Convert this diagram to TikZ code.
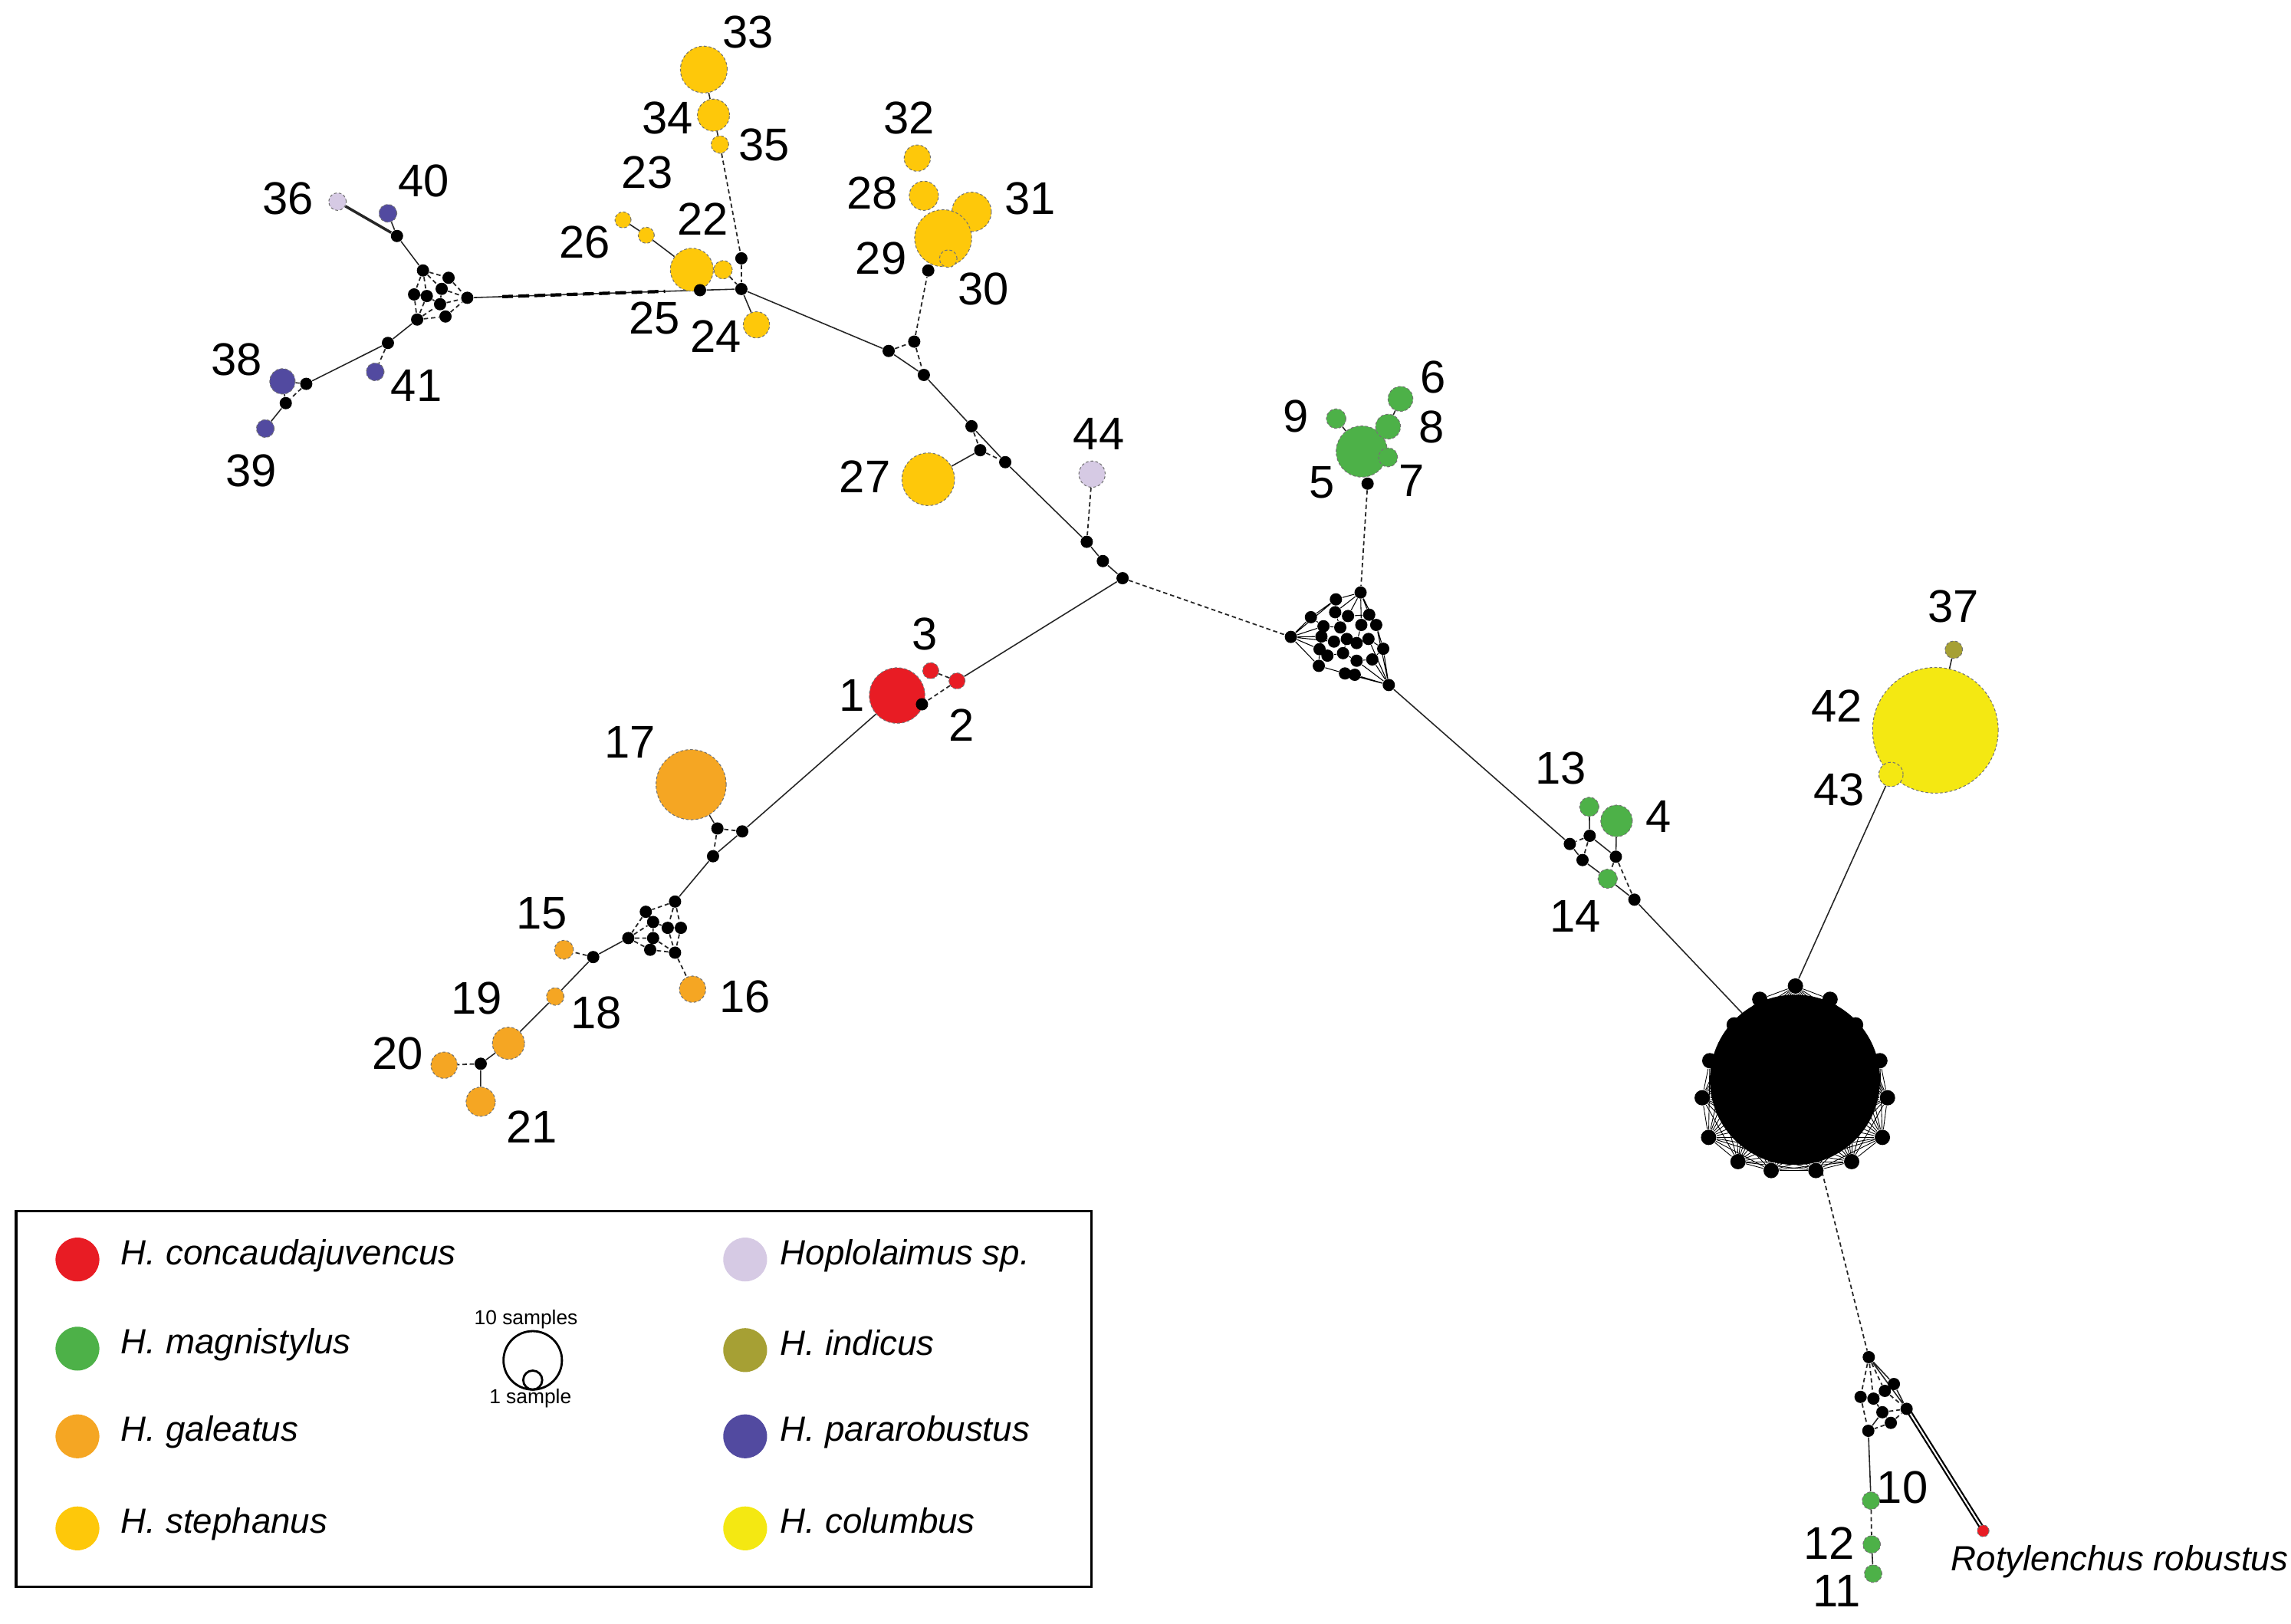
\documentclass[tikz,border=0pt]{standalone}
\usepackage{fontspec}
\setmainfont{Liberation Sans}
\usetikzlibrary{backgrounds,calc}
\definecolor{cred}{RGB}{232,28,36}
\definecolor{cgreen}{RGB}{77,177,72}
\definecolor{corange}{RGB}{245,166,35}
\definecolor{cgold}{RGB}{254,200,10}
\definecolor{clav}{RGB}{214,202,228}
\definecolor{colive}{RGB}{166,160,52}
\definecolor{cpurp}{RGB}{82,74,160}
\definecolor{cyel}{RGB}{244,232,18}
\begin{document}
\begin{tikzpicture}[x=0.019056cm,y=-0.019056cm,
  hap/.style={circle,inner sep=0pt,minimum size=#1*0.038112cm,draw=black!55,line width=0.3pt,dash pattern=on 1pt off 0.8pt},
  mv/.style={circle,inner sep=0pt,minimum size=0.16cm,fill=black},
  lbl/.style={inner sep=0pt,font=\fontsize{17}{17}\selectfont},
  ln/.style={line width=0.45pt,black!85},
  dl/.style={line width=0.5pt,black!85,dash pattern=on 1.6pt off 1.1pt},
  leg/.style={circle,inner sep=0pt,minimum size=0.572cm},
  legtxt/.style={anchor=base west,inner sep=0pt,font=\fontsize{13}{13}\selectfont\itshape}]
\useasboundingbox (0,0) rectangle (1568,1111);

% ---------- haplotypes ----------
\node[hap=19,fill=cred] (h1) at (614,476) {};
\node[hap=5.5,fill=cred] (h2) at (655,466) {};
\node[hap=5.5,fill=cred] (h3) at (637,459) {};
\node[hap=17.5,fill=cgreen] (h5) at (932,309) {};
\node[hap=8.5,fill=cgreen] (h6) at (958.5,273) {};
\node[hap=6.5,fill=cgreen] (h7) at (950,313) {};
\node[hap=8.5,fill=cgreen] (h8) at (950,292) {};
\node[hap=6.7,fill=cgreen] (h9) at (914.5,286.5) {};
\node[hap=10.8,fill=cgreen] (h4) at (1106.4,561.8) {};
\node[hap=6.6,fill=cgreen] (h13) at (1087.7,552.2) {};
\node[hap=6.6,fill=cgreen] (h14) at (1100.3,601.4) {};
\node[hap=6,fill=cgreen] (h10) at (1280.5,1027) {};
\node[hap=6,fill=cgreen] (h12) at (1281,1057) {};
\node[hap=6,fill=cgreen] (h11) at (1282,1077) {};
\node[hap=6.5,fill=corange] (h15) at (386,650) {};
\node[hap=9,fill=corange] (h16) at (474,677) {};
\node[hap=24,fill=corange] (h17) at (473,537) {};
\node[hap=6,fill=corange] (h18) at (380,682) {};
\node[hap=11,fill=corange] (h19) at (348,714) {};
\node[hap=9,fill=corange] (h20) at (304,729) {};
\node[hap=10,fill=corange] (h21) at (329,754) {};
\node[hap=14.7,fill=cgold] (h22) at (473.5,184.6) {};
\node[hap=5.5,fill=cgold] (h23) at (426.4,150.5) {};
\node[hap=9,fill=cgold] (h24) at (517.7,222.3) {};
\node[hap=6.3,fill=cgold] (h25) at (494.9,184.6) {};
\node[hap=5.5,fill=cgold] (h26) at (442.3,161) {};
\node[hap=18,fill=cgold] (h27) at (635.3,328) {};
\node[hap=9,fill=cgold] (h32) at (627.8,108.2) {};
\node[hap=10,fill=cgold] (h28) at (632.3,134) {};
\node[hap=13.5,fill=cgold] (h31) at (665,145) {};
\node[hap=19.5,fill=cgold] (h29) at (645.5,163) {};
\node[hap=6,fill=cgold] (h30) at (649,177) {};
\node[hap=16,fill=cgold] (h33) at (481.7,47.6) {};
\node[hap=11,fill=cgold] (h34) at (488.3,78.8) {};
\node[hap=6,fill=cgold] (h35) at (492.7,98.9) {};
\node[hap=6,fill=clav] (h36) at (231,138) {};
\node[hap=6,fill=colive] (h37) at (1337.2,444.7) {};
\node[hap=8.7,fill=cpurp] (h38) at (193.3,261) {};
\node[hap=6.1,fill=cpurp] (h39) at (181.6,293.3) {};
\node[hap=6.1,fill=cpurp] (h40) at (265.5,146) {};
\node[hap=6.1,fill=cpurp] (h41) at (256.8,254.5) {};
\node[hap=43,fill=cyel] (h42) at (1324.6,499.8) {};
\node[hap=8.3,fill=cyel] (h43) at (1294.2,530) {};
\node[hap=9,fill=clav] (h44) at (747.4,324.5) {};
\node[hap=4,fill=cred] (hrr) at (1357.3,1047.7) {};

% ---------- median vectors ----------
\node[mv] (ma1) at (271.7,161.5) {};
\node[mv] (c1) at (289.5,185.1) {};
\node[mv] (c2) at (307,190.1) {};
\node[mv] (c3) at (283.4,201.5) {};
\node[mv] (c4) at (292.1,202.6) {};
\node[mv] (c5) at (302.3,197.7) {};
\node[mv] (c6) at (301.2,208.2) {};
\node[mv] (c7) at (319.8,203.8) {};
\node[mv] (c8) at (285.5,218.7) {};
\node[mv] (c9) at (304.9,216.6) {};
\node[mv] (ma2) at (265.5,234.7) {};
\node[mv] (ma3) at (209.6,262.7) {};
\node[mv] (ma4) at (195.6,275.9) {};
\node[mv] (mb22a) at (507.4,176.8) {};
\node[mv] (mb22b) at (507.4,197.8) {};
\node[mv] (mb22c) at (479.1,198.6) {};
\node[mv] (m29) at (635.3,185.1) {};
\node[mv] (j1) at (608.2,240.2) {};
\node[mv] (j2) at (625.7,233.8) {};
\node[mv] (j3) at (632.3,256.6) {};
\node[mv] (j4) at (664.9,291.7) {};
\node[mv] (j5) at (670.9,308.1) {};
\node[mv] (j6) at (688,316.3) {};
\node[mv] (k1) at (743.8,370.8) {};
\node[mv] (k2) at (754.8,384) {};
\node[mv] (hub) at (768.3,395.7) {};
\node[mv] (m1) at (631,482) {};
\node[mv] (m17a) at (508,569) {};
\node[mv] (m17b) at (491,567) {};
\node[mv] (m17c) at (488,586) {};
\node[mv] (g1) at (462,617) {};
\node[mv] (g2) at (442,624) {};
\node[mv] (g3) at (447,631) {};
\node[mv] (g4) at (457,635) {};
\node[mv] (g5) at (466,635) {};
\node[mv] (g6) at (430,642) {};
\node[mv] (g7) at (447,642) {};
\node[mv] (g8) at (445,650) {};
\node[mv] (g9) at (462,652) {};
\node[mv] (m15) at (406,655) {};
\node[mv] (m20) at (329,728) {};
\node[mv] (m5) at (936,331) {};
\node[mv] (cT) at (931.2,405.5) {};
\node[mv] (cL) at (883.5,435.9) {};
\node[mv] (cB) at (950.5,468.8) {};
\foreach \x/\y [count=\i] in {914.3/410.2, 897.2/422.4, 913.8/419.0, 922.6/421.6, 937.1/420.7,
  941.9/427.7, 931.7/427.7, 917.3/429.4, 905.8/428.6, 904.4/435.6, 913.0/439.1, 921.8/437.3,
  928.5/440.1, 936.6/437.3, 946.7/444.0, 903.1/444.3, 908.5/448.7, 919.2/447.0, 928.5/452.2,
  939.2/451.3, 902.6/455.7, 920.5/460.9, 927.2/461.8}
  \node[mv] (n\i) at (\x,\y) {};
\node[mv] (b1) at (1088,572) {};
\node[mv] (b2) at (1074.4,577.6) {};
\node[mv] (b3) at (1083.1,588.6) {};
\node[mv] (b4) at (1105.9,586.3) {};
\node[mv] (b5) at (1118.6,615.7) {};
\node[circle,fill=black,inner sep=0pt,minimum size=2.22cm] (blob) at (1228.5,739) {};
\foreach \x/\y [count=\i] in {1228.8/674.8, 1204.4/683.9, 1252.5/683.9, 1186.9/701.4, 1270/701.4,
  1170.2/725.9, 1286.6/725.9, 1165/751.3, 1291.8/751.3, 1169.4/778.4, 1288.3/778.4,
  1189.5/795, 1267.3/795, 1212.2/801.1, 1242.8/801.1}
  \node[mv,minimum size=0.2cm] (p\i) at (\x,\y) {};
\coordinate (bin) at (1210,712);
\coordinate (bout) at (1247,802);
\node[mv] (L0) at (1279,928.8) {};
\node[mv] (L1) at (1296.2,947.2) {};
\node[mv] (L2) at (1290,951.9) {};
\node[mv] (L3) at (1273.4,956) {};
\node[mv] (L4) at (1282.2,957.2) {};
\node[mv] (L5) at (1304.9,964.2) {};
\node[mv] (L6) at (1288.3,966.5) {};
\node[mv] (L7) at (1294.1,973.8) {};
\node[mv] (L8) at (1278.7,979.2) {};

% ---------- connectors ----------
\begin{pgfonlayer}{background}
\draw[ln,line width=1pt] (h36) -- (ma1);
\draw[ln] (h40) -- (ma1) (ma1) -- (c1);
\draw[dl] (c1) -- (c2) (c1) -- (c3) (c1) -- (c5) (c2) -- (c7) (c5) -- (c7) (c6) -- (c7)
  (c9) -- (c7) (c3) -- (c8) (c4) -- (c8) (c8) -- (c9) (c4) -- (c6) (c3) -- (c4) (c5) -- (c6) (c8) -- (c6) (c1) -- (c4);
\draw[ln] (c7) -- (mb22c);
\draw[line width=1.2pt,dash pattern=on 4pt off 2pt] ($(c7)!0.15!(mb22c)$) -- ($(c7)!0.85!(mb22c)$);
\draw[ln] (c8) -- (ma2) (ma2) -- (ma3) (ma3) -- (h38) (h38) -- (ma4) (ma4) -- (h39);
\draw[dl] (ma2) -- (h41) (ma3) -- (ma4);
\draw[ln] (h33) -- (h34) (h34) -- (h35) (h23) -- (h26) (h26) -- (h22) (mb22c) -- (h22) (mb22c) -- (mb22b) (mb22b) -- (h24);
\draw[dl] (h35) -- (mb22a) (mb22a) -- (mb22b) (h25) -- (mb22b);
\draw[ln] (mb22b) -- (j1) (j1) -- (j3) (j3) -- (j4) (j4) -- (j6) (j5) -- (h27) (j6) -- (k1) (k1) -- (k2) (k2) -- (hub) (hub) -- (h2) (m29) -- (h29);
\draw[dl] (j1) -- (j2) (j2) -- (j3) (j2) -- (m29) (j4) -- (j5) (j5) -- (j6) (h44) -- (k1) (h2) -- (h3) (h2) -- (m1);
\draw[ln] (h1) -- (m17a) (m17b) -- (h17) (m17a) -- (m17c) (m17c) -- (g1);
\draw[dl] (m17a) -- (m17b) (m17b) -- (m17c);
\draw[dl] (g1) -- (g2) (g1) -- (g4) (g1) -- (g5) (g2) -- (g3) (g3) -- (g4) (g6) -- (g7) (g6) -- (g8) (g7) -- (g9)
  (g5) -- (g9) (g4) -- (g9) (g8) -- (g9) (g2) -- (g6) (g6) -- (g3) (g3) -- (g7) (g4) -- (g5) (g9) -- (h16) (m15) -- (h15) (m20) -- (h20);
\draw[ln] (g6) -- (m15) (m15) -- (h18) (h18) -- (h19) (h19) -- (m20) (m20) -- (h21);
\draw[ln] (h9) -- (h5) (h8) -- (h5) (h6) -- (h8) (h5) -- (m5);
\draw[dl] (m5) -- (cT) (hub) -- (cL);
\draw[line width=0.3pt] (cL) -- (n2) (cL) -- (n9) (cL) -- (n10) (cL) -- (n16) (cL) -- (n21) (cL) -- (n1) (cL) -- (n11)
  (cT) -- (n1) (cT) -- (n3) (cT) -- (n4) (cT) -- (n5) (cT) -- (n6) (cT) -- (n7)
  (cB) -- (n15) (cB) -- (n19) (cB) -- (n20) (cB) -- (n22) (cB) -- (n23) (cB) -- (n14) (cB) -- (n6)
  (n1) -- (n3) (n2) -- (n9) (n3) -- (n4) (n4) -- (n5) (n5) -- (n6) (n3) -- (n8) (n8) -- (n9) (n9) -- (n10)
  (n10) -- (n11) (n11) -- (n12) (n12) -- (n13) (n13) -- (n14) (n14) -- (n15) (n10) -- (n16) (n16) -- (n17)
  (n17) -- (n18) (n18) -- (n19) (n19) -- (n20) (n21) -- (n22) (n22) -- (n23) (n17) -- (n21) (n12) -- (n18)
  (n7) -- (n13) (n4) -- (n8) (n6) -- (n15) (n20) -- (n15) (n2) -- (n1) (n16) -- (n21);
\draw[ln] (cB) -- (b2) (h13) -- (b1) (h4) -- (b4) (b2) -- (b3) (b3) -- (h14) (h14) -- (b5) (b1) -- (b4) (b5) -- (bin);
\draw[dl] (b1) -- (b2) (b1) -- (b3) (b4) -- (h14) (b4) -- (b5);
\foreach \i in {1,...,14}{
  \pgfmathtruncatemacro\k{\i+1}
  \foreach \j in {\k,...,15}{\draw[line width=0.25pt] (p\i) -- (p\j);}}
\draw[ln] (h43) -- (p1) (h42) -- (h37);
\draw[dl] (bout) -- (L0);
\draw[dl] (L0) -- (L3) (L0) -- (L4) (L0) -- (L2) (L3) -- (L8) (L2) -- (L4) (L4) -- (L6) (L6) -- (L7) (L7) -- (L5) (L6) -- (L5) (L7) -- (L8) (L2) -- (L5) (L3) -- (L4);
\draw[ln] (L0) -- (L1) (L0) -- (L5) (L1) -- (L5) (L6) -- (L8) (L8) -- (h10) (h12) -- (h11);
\draw[dl] (h10) -- (h12);
\draw[line width=0.6pt] ([xshift=-0.5pt]L5.center) -- ([xshift=-0.5pt]hrr.center);
\draw[line width=0.6pt] ([xshift=1pt]L5.center) -- ([xshift=1pt]hrr.center);
\end{pgfonlayer}

% ---------- labels ----------
\node[lbl] (t1) at (583,476) {1};
\node[lbl] (t2) at (658,496) {2};
\node[lbl] (t3) at (633,434) {3};
\node[lbl] (t4) at (1135,559) {4};
\node[lbl] (t5) at (905,330) {5};
\node[lbl] (t6) at (981,258) {6};
\node[lbl] (t7) at (966,329) {7};
\node[lbl] (t8) at (980,292) {8};
\node[lbl] (t9) at (887,285) {9};
\node[lbl] (t10) at (1302,1018) {10};
\node[lbl] (t11) at (1257,1089) {11};
\node[lbl] (t12) at (1252,1056) {12};
\node[lbl] (t13) at (1068,526) {13};
\node[lbl] (t14) at (1078,627) {14};
\node[lbl] (t15) at (371,625) {15};
\node[lbl] (t16) at (510,682) {16};
\node[lbl] (t17) at (431,508) {17};
\node[lbl] (t18) at (408,693) {18};
\node[lbl] (t19) at (326,683) {19};
\node[lbl] (t20) at (272,721) {20};
\node[lbl] (t21) at (364,771) {21};
\node[lbl] (t22) at (481,150) {22};
\node[lbl] (t23) at (443,118) {23};
\node[lbl] (t24) at (490,230) {24};
\node[lbl] (t25) at (448,218) {25};
\node[lbl] (t26) at (400,166) {26};
\node[lbl] (t27) at (592,326) {27};
\node[lbl] (t28) at (597,132) {28};
\node[lbl] (t29) at (603,177) {29};
\node[lbl] (t30) at (673,198) {30};
\node[lbl] (t31) at (705,136) {31};
\node[lbl] (t32) at (622,81) {32};
\node[lbl] (t33) at (512,22) {33};
\node[lbl] (t34) at (457,81) {34};
\node[lbl] (t35) at (523,99) {35};
\node[lbl] (t36) at (197,136) {36};
\node[lbl] (t37) at (1337,415) {37};
\node[lbl] (t38) at (162,246) {38};
\node[lbl] (t39) at (172,322) {39};
\node[lbl] (t40) at (290,124) {40};
\node[lbl] (t41) at (285,264) {41};
\node[lbl] (t42) at (1257,483) {42};
\node[lbl] (t43) at (1258.5,540.5) {43};
\node[lbl] (t44) at (752,297) {44};
\node[anchor=west,inner sep=0pt,font=\fontsize{13}{13}\selectfont\itshape] (trr) at (1335,1069) {Rotylenchus robustus};

% ---------- legend ----------
\draw[line width=0.9pt] (11,829) rectangle (747,1086);
\node[leg,fill=cred] (lg1) at (53,862) {};
\node[leg,fill=cgreen] (lg2) at (53,923) {};
\node[leg,fill=corange] (lg3) at (53,983) {};
\node[leg,fill=cgold] (lg4) at (53,1046) {};
\node[leg,fill=clav] (lg5) at (510,862) {};
\node[leg,fill=colive] (lg6) at (510,924) {};
\node[leg,fill=cpurp] (lg7) at (510,983) {};
\node[leg,fill=cyel] (lg8) at (510,1046) {};
\node[legtxt] (lt1) at (82.5,865.5) {H. concaudajuvencus};
\node[legtxt] (lt2) at (82.5,926.5) {H. magnistylus};
\node[legtxt] (lt3) at (82.5,986.5) {H. galeatus};
\node[legtxt] (lt4) at (82.5,1049.5) {H. stephanus};
\node[legtxt] (lt5) at (533.8,865.5) {Hoplolaimus sp.};
\node[legtxt] (lt6) at (533.8,927.5) {H. indicus};
\node[legtxt] (lt7) at (533.8,986.5) {H. pararobustus};
\node[legtxt] (lt8) at (533.8,1049.5) {H. columbus};
\node[circle,draw,line width=0.8pt,inner sep=0pt,minimum size=40*0.019056cm] (sbig) at (364.6,931) {};
\node[circle,draw,line width=0.8pt,inner sep=0pt,minimum size=13*0.019056cm] (ssmall) at (364.6,944.5) {};
\node[inner sep=0pt,font=\fontsize{7.5}{7.5}\selectfont] (s10) at (360,903) {10 samples};
\node[inner sep=0pt,font=\fontsize{7.5}{7.5}\selectfont] (s1) at (363,957) {1 sample};
\end{tikzpicture}
\end{document}
